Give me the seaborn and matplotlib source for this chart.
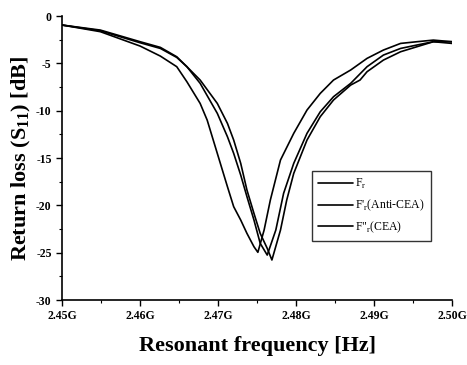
import numpy as np
import pandas as pd
import matplotlib
matplotlib.use("Agg")
import matplotlib.pyplot as plt
import seaborn as sns
from matplotlib.ticker import MultipleLocator, FuncFormatter

# frequency in GHz, return loss in dB
freq_fr = [2.4500, 2.4549, 2.4600, 2.4626, 2.4647, 2.4660, 2.4677, 2.4686, 2.4699, 2.4712,
           2.4720, 2.4729, 2.4737, 2.4746, 2.4751, 2.4759, 2.4767, 2.4780, 2.4797, 2.4814,
           2.4831, 2.4848, 2.4870, 2.4891, 2.4912, 2.4934, 2.4955, 2.4976, 2.5000]
loss_fr = [-0.95, -1.65, -3.17, -4.23, -5.35, -6.94, -9.23, -10.99, -14.51, -18.03,
           -20.14, -21.55, -22.96, -24.37, -24.96, -22.61, -19.44, -15.21, -12.39, -9.93,
           -8.17, -6.76, -5.70, -4.47, -3.59, -2.89, -2.71, -2.54, -2.71]

freq_anti = [2.4500, 2.4549, 2.4600, 2.4626, 2.4647, 2.4660, 2.4677, 2.4699, 2.4712, 2.4720,
             2.4729, 2.4737, 2.4746, 2.4754, 2.4763, 2.4774, 2.4784, 2.4797, 2.4814, 2.4831,
             2.4848, 2.4870, 2.4891, 2.4912, 2.4934, 2.4955, 2.4976, 2.5000]
loss_anti = [-0.95, -1.55, -2.82, -3.42, -4.37, -5.35, -7.11, -10.28, -12.75, -14.51,
             -16.80, -19.08, -21.55, -24.01, -25.25, -22.61, -18.73, -15.56, -12.39, -10.11,
             -8.52, -7.11, -5.35, -4.12, -3.42, -3.06, -2.71, -2.71]

freq_cea = [2.4500, 2.4549, 2.4600, 2.4626, 2.4647, 2.4660, 2.4677, 2.4699, 2.4712, 2.4720,
            2.4729, 2.4737, 2.4746, 2.4754, 2.4763, 2.4769, 2.4780, 2.4788, 2.4797, 2.4814,
            2.4831, 2.4848, 2.4870, 2.4882, 2.4891, 2.4912, 2.4934, 2.4955, 2.4976, 2.5000]
loss_cea = [-0.95, -1.48, -2.71, -3.31, -4.30, -5.35, -6.76, -9.23, -11.34, -13.10,
            -15.56, -18.38, -20.85, -22.96, -24.54, -25.77, -22.61, -19.44, -16.62, -13.10,
            -10.63, -8.87, -7.29, -6.76, -5.88, -4.65, -3.77, -3.24, -2.71, -2.89]

labels = ["F$_{\\mathrm{r}}$", "F'$_{\\mathrm{r}}$(Anti-CEA)", "F\"$_{\\mathrm{r}}$(CEA)"]

df = pd.concat([
    pd.DataFrame({"freq": freq_fr, "loss": loss_fr, "sample": labels[0]}),
    pd.DataFrame({"freq": freq_anti, "loss": loss_anti, "sample": labels[1]}),
    pd.DataFrame({"freq": freq_cea, "loss": loss_cea, "sample": labels[2]}),
])

sns.set_style("ticks")
plt.rcParams["font.family"] = ["Liberation Serif", "DejaVu Serif"]
plt.rcParams["mathtext.fontset"] = "custom"
plt.rcParams["mathtext.rm"] = "Liberation Serif"
plt.rcParams["mathtext.bf"] = "Liberation Serif:bold"
plt.rcParams["text.color"] = "black"
plt.rcParams["axes.labelcolor"] = "black"

fig = plt.figure(figsize=(4.67, 3.65), dpi=100)
ax = fig.add_axes([0.133, 0.178, 0.835, 0.778])

sns.lineplot(data=df, x="freq", y="loss", hue="sample", estimator=None, sort=False,
             palette=["black", "black", "black"], linewidth=1.2, ax=ax)

ax.set_xlim(2.45, 2.50)
ax.set_ylim(-30, 0)
ax.xaxis.set_major_locator(MultipleLocator(0.01))
ax.xaxis.set_minor_locator(MultipleLocator(0.005))
ax.yaxis.set_major_locator(MultipleLocator(5))
ax.yaxis.set_minor_locator(MultipleLocator(2.5))
ax.xaxis.set_major_formatter(FuncFormatter(lambda v, p: f"{v:.2f}G"))
ax.yaxis.set_major_formatter(FuncFormatter(lambda v, p: f"{v:g}"))
ax.tick_params(axis="both", which="major", direction="out", length=4, width=1,
               labelsize=8.5, colors="black")
ax.tick_params(axis="both", which="minor", direction="out", length=2, width=0.8,
               colors="black")
for lbl in ax.get_xticklabels() + ax.get_yticklabels():
    lbl.set_fontweight("bold")

sns.despine(ax=ax)
ax.spines["left"].set_linewidth(1.2)
ax.spines["bottom"].set_linewidth(1.2)
ax.spines["left"].set_color("black")
ax.spines["bottom"].set_color("black")

ax.set_xlabel("Resonant frequency [Hz]", fontsize=16, fontweight="bold", labelpad=10,
              color="black")
ax.set_ylabel("Return loss (S$_{\\mathbf{11}}$) [dB]", fontsize=16, fontweight="bold",
              labelpad=2, color="black")

leg = ax.legend(loc="center right", bbox_to_anchor=(0.96, 0.33), fontsize=8.5,
                frameon=True, fancybox=False, handlelength=3.0, handletextpad=0.2,
                borderpad=0.5, labelspacing=0.55, title=None)
leg.get_frame().set_edgecolor("black")
leg.get_frame().set_linewidth(1.0)
for t in leg.get_texts():
    t.set_color("black")

fig.savefig("out.png", dpi=100)
